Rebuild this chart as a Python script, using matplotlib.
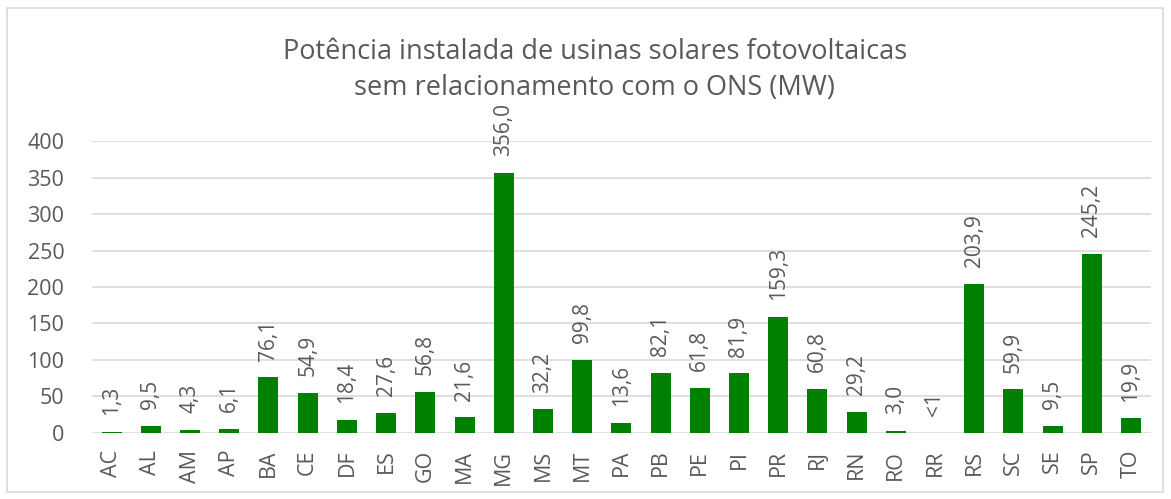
import numpy as np
import matplotlib
matplotlib.use("Agg")
import matplotlib.pyplot as plt
from matplotlib.patches import Rectangle

# data
estados = ["AC", "AL", "AM", "AP", "BA", "CE", "DF", "ES", "GO", "MA", "MG", "MS", "MT", "PA",
           "PB", "PE", "PI", "PR", "RJ", "RN", "RO", "RR", "RS", "SC", "SE", "SP", "TO"]
potencia = [1.3, 9.5, 4.3, 6.1, 76.1, 54.9, 18.4, 27.6, 56.8, 21.6, 356.0, 32.2, 99.8, 13.6,
            82.1, 61.8, 81.9, 159.3, 60.8, 29.2, 3.0, 0.3, 203.9, 59.9, 9.5, 245.2, 19.9]
rotulos = ["1,3", "9,5", "4,3", "6,1", "76,1", "54,9", "18,4", "27,6", "56,8", "21,6", "356,0",
           "32,2", "99,8", "13,6", "82,1", "61,8", "81,9", "159,3", "60,8", "29,2", "3,0", "<1",
           "203,9", "59,9", "9,5", "245,2", "19,9"]
yticks = [0, 50, 100, 150, 200, 250, 300, 350, 400]

cinza = "#595959"
verde = "#008000"

plt.rcParams['font.family'] = ['Open Sans', 'DejaVu Sans']

fig = plt.figure(figsize=(11.71, 4.99), dpi=100)
ax = fig.add_axes([0.0786, 0.1323, 0.904, 0.5851])

x = np.arange(len(estados))
bars = ax.bar(x, potencia, width=0.51, color=verde, zorder=3)

for b, txt in zip(bars, rotulos):
    ax.annotate(txt, (b.get_x() + b.get_width() / 2, b.get_height()),
                xytext=(0, 12), textcoords="offset points", rotation=90,
                ha="center", va="bottom", fontsize=15, color=cinza,
                annotation_clip=False)

ax.set_xlim(-0.5, len(estados) - 0.5)
ax.set_ylim(0, 400)
ax.set_yticks(yticks)
ax.set_xticks(x)
ax.set_xticklabels(estados, rotation=90)
ax.tick_params(axis="both", length=0, labelsize=15.5, labelcolor=cinza)
ax.tick_params(axis="y", pad=20)
ax.tick_params(axis="x", pad=12)
ax.grid(axis="y", color="#d9d9d9", linewidth=1.2, zorder=0)
for s in ax.spines.values():
    s.set_visible(False)

fig.text(0.508, 0.86, "Potência instalada de usinas solares fotovoltaicas\nsem relacionamento com o ONS (MW)",
         ha="center", va="center", fontsize=19.5, color=cinza, linespacing=1.4)

fig.patches.append(Rectangle((0.006, 0.014), 0.987, 0.97, transform=fig.transFigure,
                             fill=False, edgecolor="#d9d9d9", linewidth=1.2))

fig.savefig("out.png", dpi=100)
